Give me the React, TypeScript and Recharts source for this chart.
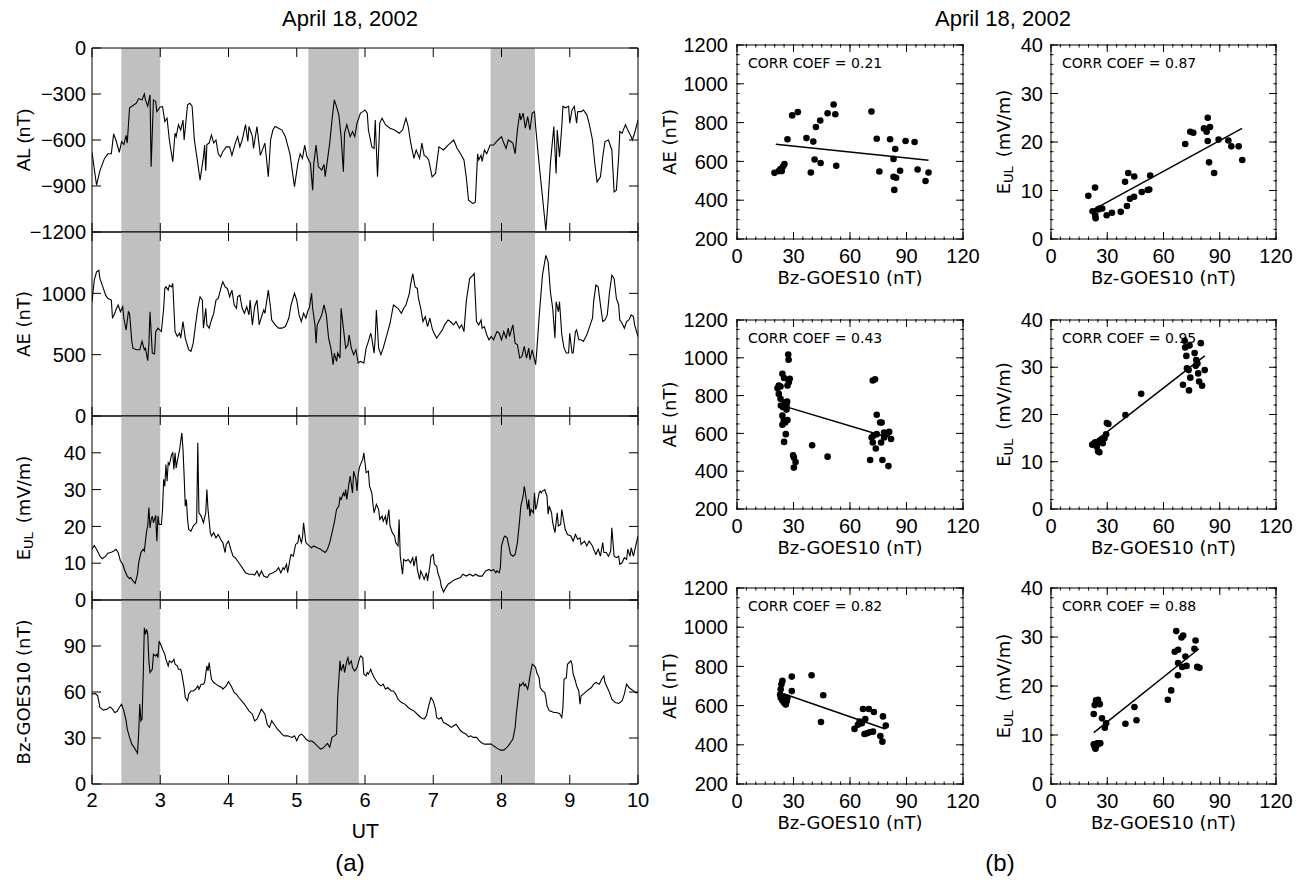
import React from "react";
import {
  LineChart,
  Line,
  XAxis,
  YAxis,
  ReferenceArea,
  ScatterChart,
  Scatter,
  ReferenceLine,
} from "recharts";

// ---------------- data: time series (panel a) ----------------
// each trace: [minutes after 02:00 UT, value]
const HOURS = [2, 3, 4, 5, 6, 7, 8, 9, 10];
const SHADED_INTERVALS: [number, number][] = [
  [2.43, 3.0],
  [5.17, 5.91],
  [7.84, 8.49],
];

const alTrace: [number, number][] = [
  [0,-680],[4,-895],[7,-800],[11,-720],[14,-690],[17,-690],[19,-560],[21,-600],[24,-680],[26,-610],[28,-630],[30,-570],[31,-620],[33,-390],[36,-375],[39,-360],[41,-330],[44,-338],[46,-300],[47,-340],[49,-380],[51,-305],[52,-775],[54,-338],[56,-350],[57,-415],[60,-385],[62,-382],[64,-480],[66,-458],[68,-600],[71,-742],[73,-556],[74,-578],[76,-500],[78,-535],[80,-470],[81,-600],[84,-370],[86,-360],[88,-380],[90,-600],[93,-752],[95,-862],[98,-710],[99,-633],[100,-800],[101,-630],[103,-620],[105,-567],[107,-620],[109,-600],[111,-690],[113,-710],[115,-676],[118,-645],[121,-645],[123,-700],[126,-620],[128,-578],[130,-645],[132,-600],[135,-500],[137,-610],[138,-512],[141,-578],[142,-655],[145,-512],[148,-700],[152,-620],[155,-840],[157,-600],[159,-535],[161,-512],[164,-523],[167,-535],[170,-578],[174,-690],[178,-905],[181,-752],[183,-690],[185,-720],[187,-633],[189,-710],[192,-752],[194,-927],[195,-752],[197,-633],[199,-775],[202,-796],[204,-760],[205,-840],[207,-730],[209,-620],[211,-470],[213,-338],[215,-382],[217,-436],[219,-578],[221,-807],[222,-556],[224,-500],[227,-578],[229,-545],[231,-578],[233,-490],[236,-425],[238,-415],[240,-404],[242,-425],[243,-535],[246,-645],[248,-655],[249,-470],[251,-840],[253,-490],[255,-458],[258,-500],[262,-523],[266,-535],[270,-556],[273,-535],[276,-458],[278,-512],[280,-610],[283,-720],[285,-665],[288,-720],[290,-620],[292,-700],[294,-710],[296,-730],[299,-840],[302,-818],[305,-645],[309,-665],[313,-633],[315,-620],[318,-600],[321,-655],[324,-690],[327,-730],[329,-840],[331,-993],[335,-1015],[337,-1004],[339,-690],[340,-730],[342,-700],[343,-740],[345,-665],[347,-690],[350,-633],[353,-633],[357,-600],[360,-578],[362,-620],[364,-655],[366,-600],[368,-610],[370,-620],[372,-690],[374,-535],[376,-425],[377,-470],[379,-425],[381,-523],[383,-447],[385,-535],[387,-425],[389,-415],[390,-512],[393,-752],[396,-970],[399,-1190],[401,-993],[403,-752],[406,-512],[408,-818],[409,-535],[411,-710],[413,-512],[414,-380],[416,-390],[419,-380],[420,-490],[422,-404],[424,-380],[426,-490],[427,-415],[430,-415],[432,-404],[435,-436],[437,-490],[440,-600],[442,-752],[444,-873],[447,-840],[449,-710],[451,-610],[454,-600],[457,-665],[459,-938],[461,-927],[463,-710],[464,-545],[466,-556],[469,-500],[471,-535],[474,-578],[475,-600],[477,-556],[480,-470],
];

const aeTrace: [number, number][] = [
  [0,930],[2,1107],[4,1175],[6,1188],[7,1120],[10,1040],[12,985],[14,958],[17,945],[18,797],[20,837],[21,864],[23,905],[25,850],[27,891],[28,797],[30,702],[32,850],[33,837],[35,608],[36,553],[39,540],[42,540],[44,608],[46,540],[47,553],[49,451],[50,581],[51,850],[53,513],[55,505],[56,688],[58,716],[61,688],[63,878],[64,1040],[65,1053],[67,1026],[68,1067],[70,1053],[71,1080],[73,688],[75,648],[77,675],[78,635],[80,770],[82,635],[85,540],[87,527],[89,594],[91,743],[93,878],[95,972],[97,945],[98,716],[100,878],[101,743],[103,716],[105,783],[107,837],[109,945],[111,958],[114,1067],[115,1094],[117,1053],[119,1040],[121,972],[123,1026],[125,905],[127,878],[128,972],[130,985],[132,878],[134,837],[136,891],[138,824],[139,945],[141,743],[143,891],[145,945],[147,743],[149,810],[151,864],[152,837],[155,1026],[157,878],[158,783],[161,743],[164,716],[167,716],[170,729],[173,797],[175,905],[178,1000],[180,945],[182,824],[184,770],[186,837],[188,797],[190,864],[191,878],[193,1000],[194,878],[196,743],[197,594],[198,743],[200,783],[202,824],[204,905],[206,824],[208,635],[210,553],[212,418],[213,513],[215,445],[216,513],[218,472],[219,878],[221,716],[223,553],[225,581],[226,662],[228,553],[230,500],[232,540],[234,432],[236,445],[239,432],[241,553],[243,608],[245,675],[246,635],[248,513],[249,635],[250,864],[252,553],[254,500],[256,553],[258,621],[260,688],[262,756],[265,905],[267,891],[269,878],[272,837],[274,878],[276,905],[279,1000],[280,1067],[282,1161],[284,1053],[286,1040],[287,958],[289,878],[291,770],[293,810],[295,729],[297,797],[299,716],[300,688],[303,635],[305,662],[308,702],[310,743],[313,783],[315,770],[318,743],[320,770],[323,716],[325,743],[327,688],[329,932],[332,1121],[335,1148],[336,1161],[338,770],[340,743],[342,783],[343,716],[345,729],[347,662],[349,621],[351,648],[353,621],[356,688],[358,675],[360,621],[362,688],[364,635],[366,716],[367,648],[370,743],[372,594],[374,581],[376,472],[378,486],[380,567],[382,472],[384,553],[385,459],[387,540],[390,418],[391,527],[393,797],[396,1148],[399,1310],[401,1256],[403,1013],[405,878],[407,635],[408,932],[410,850],[411,932],[413,662],[415,553],[417,513],[419,513],[420,675],[422,513],[423,513],[425,688],[426,702],[428,621],[430,621],[432,608],[435,662],[437,716],[440,797],[441,932],[443,1067],[445,1053],[447,905],[449,770],[451,783],[453,824],[455,1013],[457,1148],[459,1121],[461,958],[463,905],[464,783],[466,756],[468,716],[470,770],[472,783],[474,824],[476,810],[477,743],[480,648],
];

const eulTrace: [number, number][] = [
  [0,13.8],[2,14.8],[4,13.8],[7,11.9],[9,11.2],[12,11.9],[14,12.7],[17,13.0],[19,13.3],[21,13.8],[23,12.9],[25,10.6],[27,9.7],[29,7.9],[31,6.5],[33,5.8],[34,6.1],[36,5.2],[38,4.5],[40,7.0],[41,10.1],[43,12.9],[45,13.8],[46,13.3],[47,16.0],[48,18.7],[49,20.1],[50,25.1],[51,19.6],[52,21.9],[53,22.8],[54,21.0],[56,23.0],[57,16.0],[58,22.8],[59,20.5],[61,20.5],[62,24.6],[63,32.8],[64,30.9],[65,36.8],[66,32.3],[67,37.3],[68,36.8],[70,39.5],[71,40.0],[72,35.5],[73,40.0],[74,35.9],[75,37.7],[77,40.9],[78,43.2],[79,45.4],[80,40.9],[81,33.7],[82,25.5],[83,27.3],[84,21.9],[85,19.2],[87,18.7],[89,20.1],[90,20.5],[92,21.0],[93,42.7],[94,23.7],[96,22.8],[98,21.0],[100,23.7],[101,30.0],[102,24.6],[104,18.3],[105,17.4],[107,18.3],[109,16.9],[111,17.8],[113,16.5],[115,15.6],[117,12.9],[118,15.1],[120,16.0],[122,13.8],[124,11.9],[126,11.5],[128,10.6],[130,9.7],[132,8.8],[135,7.4],[138,7.0],[141,7.0],[143,6.8],[145,7.9],[147,6.5],[149,7.9],[151,6.5],[154,6.1],[156,7.0],[159,7.4],[162,7.9],[164,8.8],[166,7.4],[168,8.8],[169,8.3],[171,9.7],[172,7.4],[174,11.0],[175,12.4],[177,11.9],[179,15.1],[181,15.6],[182,17.8],[184,15.6],[185,16.9],[186,21.0],[188,15.6],[191,14.7],[193,14.2],[195,14.7],[198,14.2],[201,13.8],[203,13.3],[205,12.9],[207,13.8],[209,15.6],[211,18.3],[213,21.0],[215,24.6],[217,25.5],[218,27.8],[219,27.3],[221,29.1],[222,28.2],[223,30.0],[224,27.3],[226,31.9],[227,33.7],[229,29.1],[230,35.0],[232,32.8],[233,29.6],[234,34.1],[235,35.9],[236,36.8],[238,38.2],[239,40.0],[240,37.3],[241,34.6],[243,35.0],[244,30.9],[246,29.1],[247,26.0],[248,23.7],[250,26.0],[252,24.6],[253,21.9],[255,22.8],[256,21.4],[258,22.8],[259,20.5],[261,24.6],[262,20.1],[264,18.3],[266,17.4],[267,15.6],[269,14.7],[270,21.9],[271,11.9],[273,7.0],[274,11.0],[276,10.6],[278,11.0],[280,10.1],[282,11.5],[283,9.2],[285,11.9],[286,8.3],[288,5.6],[289,7.9],[291,6.5],[292,5.6],[294,7.4],[295,5.2],[297,9.2],[298,11.9],[300,12.4],[301,9.7],[303,9.2],[304,7.4],[306,5.6],[307,3.8],[309,2.2],[311,3.3],[313,4.3],[315,4.7],[318,5.4],[321,5.8],[324,6.1],[326,7.0],[329,6.5],[332,7.0],[335,6.5],[337,7.0],[340,6.5],[343,6.5],[346,7.9],[349,8.3],[351,7.9],[353,8.3],[355,7.4],[356,7.9],[358,7.4],[359,8.8],[360,14.7],[362,16.9],[363,17.4],[365,16.9],[367,13.8],[368,12.4],[370,11.9],[372,12.4],[374,15.6],[376,21.9],[377,25.5],[379,28.2],[380,30.9],[381,29.1],[383,24.6],[384,27.3],[385,22.8],[386,24.6],[388,23.7],[389,29.1],[390,24.6],[391,25.5],[393,29.1],[394,29.6],[395,29.1],[396,29.6],[398,30.0],[400,28.2],[401,23.3],[402,25.5],[404,23.7],[405,21.0],[407,18.3],[409,23.7],[410,20.1],[412,20.5],[413,24.6],[415,21.0],[416,19.2],[418,17.8],[421,17.4],[423,16.0],[425,17.8],[427,16.5],[429,16.9],[430,15.1],[433,16.0],[435,14.7],[437,16.0],[440,14.7],[441,13.8],[443,12.4],[445,13.8],[447,11.9],[449,15.6],[450,12.9],[452,12.9],[454,11.9],[456,13.3],[457,19.6],[459,11.9],[461,11.5],[463,11.9],[464,9.7],[466,10.1],[468,11.5],[470,11.0],[471,13.8],[473,11.9],[474,14.2],[476,11.9],[478,14.7],[480,17.4],
];

const bzTrace: [number, number][] = [
  [0,58.6],[3,59.0],[5,57.5],[7,49.9],[10,48.2],[13,48.8],[16,50.3],[18,48.8],[20,46.6],[22,47.3],[24,49.9],[26,52.1],[28,47.7],[30,41.2],[31,35.8],[33,30.4],[35,26.0],[37,23.9],[39,21.3],[40,20.0],[41,32.5],[42,52.1],[43,41.2],[44,42.3],[45,69.4],[46,101.9],[47,97.6],[48,100.8],[49,98.0],[50,80.3],[51,72.7],[53,74.8],[54,84.6],[56,83.5],[57,84.6],[58,82.4],[59,93.3],[61,90.0],[62,87.8],[64,84.6],[65,81.3],[67,77.0],[68,80.3],[70,79.2],[72,81.3],[73,78.1],[75,77.0],[76,74.8],[78,74.8],[79,71.6],[81,62.9],[82,56.4],[84,54.2],[85,58.6],[87,60.7],[89,60.7],[91,61.8],[93,64.0],[94,61.8],[96,65.1],[98,65.1],[99,66.2],[101,77.0],[102,73.7],[103,79.2],[104,73.7],[105,68.3],[107,66.2],[109,65.1],[111,64.0],[114,62.9],[115,61.8],[118,64.0],[120,66.8],[121,65.5],[123,62.9],[125,59.6],[127,58.6],[129,56.4],[131,54.7],[134,52.1],[136,49.9],[138,47.7],[141,45.5],[143,41.2],[145,42.3],[147,45.5],[149,48.8],[152,45.5],[154,39.0],[156,36.9],[158,41.2],[161,38.0],[163,35.8],[165,34.3],[167,32.5],[169,31.4],[172,31.4],[174,30.8],[176,30.4],[178,31.4],[180,28.2],[182,31.4],[184,32.5],[186,31.4],[188,29.3],[191,27.8],[193,28.2],[195,27.1],[198,24.9],[201,22.8],[203,23.4],[205,24.9],[207,26.5],[209,23.9],[211,30.4],[213,31.4],[215,32.5],[216,56.4],[218,80.3],[219,73.7],[221,78.1],[222,72.7],[224,80.3],[225,82.4],[226,78.1],[228,80.3],[229,75.9],[231,73.7],[233,75.9],[235,81.3],[236,83.5],[238,82.4],[239,71.6],[241,70.5],[242,72.7],[243,71.6],[245,74.8],[246,72.7],[248,69.4],[250,67.2],[252,65.1],[254,64.0],[256,65.1],[258,61.8],[260,62.9],[263,60.7],[265,60.7],[267,58.6],[269,55.3],[272,53.1],[275,52.1],[278,49.9],[280,48.8],[283,47.7],[286,45.5],[289,43.4],[292,42.3],[294,44.5],[296,51.0],[298,56.4],[300,54.2],[302,48.8],[303,43.4],[305,42.3],[307,43.4],[309,40.1],[312,39.0],[314,38.0],[316,36.9],[318,38.0],[320,39.0],[322,36.9],[324,34.7],[326,33.6],[329,32.5],[331,30.8],[333,31.4],[335,30.4],[338,30.4],[340,28.6],[342,27.1],[345,26.0],[348,26.0],[351,26.0],[353,24.9],[356,23.4],[359,22.1],[362,22.1],[364,23.4],[366,24.9],[368,27.1],[370,29.3],[372,36.9],[373,45.5],[375,58.6],[376,65.1],[377,64.0],[379,66.2],[380,64.0],[381,65.1],[383,61.8],[384,65.5],[385,70.5],[387,78.1],[389,77.0],[390,75.9],[391,72.7],[393,69.4],[394,62.9],[396,60.7],[398,59.6],[399,56.4],[400,51.0],[402,47.7],[404,47.3],[406,46.6],[408,46.6],[411,46.0],[413,43.4],[414,49.9],[415,68.3],[417,69.4],[418,78.1],[421,80.3],[422,78.1],[423,71.6],[425,67.2],[426,64.0],[428,60.7],[429,52.1],[430,57.5],[432,58.6],[435,60.7],[437,61.8],[439,62.9],[441,65.1],[443,66.2],[446,65.1],[448,68.3],[450,70.5],[451,66.2],[453,62.9],[455,59.6],[457,55.3],[460,53.1],[463,52.5],[466,54.2],[468,58.6],[470,65.1],[472,62.9],[474,61.8],[476,60.7],[478,59.6],[480,59.6],
];

const AL_TICKS = [-1200, -900, -600, -300, 0];
const AE_TICKS = [0, 500, 1000];
const EUL_TICKS = [0, 10, 20, 30, 40];
const BZ_TICKS = [0, 30, 60, 90];

// ---------------- data: scatter panels (b) ----------------
const BZ_SC_TICKS = [0, 30, 60, 90, 120];
const AE_SC_TICKS = [200, 400, 600, 800, 1000, 1200];
const EUL_SC_TICKS = [0, 10, 20, 30, 40];

// interval 1 (2.43-3.0 UT)  [Bz, value]
const scAE1: [number, number][] = [
  [19.9,541],[22.2,550],[23.1,560],[23.8,550],[24.5,575],[25.2,586],[26.8,714],[29.3,837],[32.3,854],[36.9,720],[39.2,543],[40.5,702],[41.2,610],[41.9,777],[44.2,811],[44.4,592],[48.1,848],[51.3,893],[52.2,843],[52.7,577],[71.4,857],[74.2,717],[75.6,548],[81.3,714],[83.1,613],[83.1,521],[84.0,664],[84.5,516],[83.5,453],[86.6,552],[89.5,705],[94.3,700],[95.9,558],[100.1,499],[101.7,543],
];
const scEUL1: [number, number][] = [
  [19.9,8.9],[23.5,10.6],[22.2,5.7],[23.6,4.9],[23.8,4.3],[25.2,6.1],[26.0,6.3],[27.3,6.3],[29.7,4.9],[32.5,5.4],[37.2,5.6],[39.5,11.8],[40.5,6.8],[41.2,13.6],[42.1,8.3],[44.3,8.7],[44.4,12.9],[48.4,9.7],[51.6,10.1],[52.4,10.2],[52.9,13.1],[71.6,19.6],[74.3,22.1],[75.9,21.9],[81.6,22.8],[83.0,22.1],[83.6,25.0],[83.6,20.2],[84.8,23.1],[84.3,15.8],[87.0,13.6],[89.4,20.5],[94.6,20.3],[96.2,19.1],[100.1,19.1],[102.0,16.3],
];
// interval 2 (5.17-5.91 UT)
const scAE2: [number, number][] = [
  [27.2,1017],[27.4,990],[24.1,916],[25.0,893],[22.2,853],[23.1,848],[21.5,839],[22.2,809],[28.0,889],[27.5,871],[26.8,853],[23.1,783],[25.4,765],[26.6,768],[26.3,747],[23.3,747],[24.5,738],[26.3,726],[24.1,694],[24.8,667],[25.6,658],[26.8,671],[24.1,646],[25.9,596],[25.0,555],[29.8,484],[30.2,472],[31.1,449],[30.2,419],[39.9,537],[48.1,477],[72.1,880],[73.3,886],[74.2,699],[76.0,658],[76.8,658],[71.5,578],[72.4,587],[72.1,552],[73.7,520],[74.2,596],[76.5,552],[78.1,605],[79.5,596],[80.8,608],[78.1,578],[81.8,570],[70.7,459],[77.2,459],[80.4,427],
];
const scEUL2: [number, number][] = [
  [22.0,13.6],[22.6,13.8],[23.6,14.1],[24.4,13.2],[25.1,12.2],[25.8,12.0],[25.5,14.3],[26.4,14.6],[27.3,14.8],[27.6,13.9],[28.5,15.0],[29.4,15.8],[29.8,18.2],[30.6,18.0],[39.7,19.9],[48.1,24.4],[70.4,26.3],[71.6,34.2],[71.3,35.6],[73.9,34.6],[72.2,32.4],[72.5,29.8],[73.4,29.4],[73.6,25.1],[74.3,27.8],[76.6,33.0],[77.5,31.5],[77.2,30.3],[78.1,30.8],[78.5,28.7],[79.0,27.0],[79.9,35.1],[80.6,26.1],[82.0,29.4],
];
// interval 3 (7.84-8.49 UT)
const scAE3: [number, number][] = [
  [24.1,726],[23.6,709],[23.2,683],[22.9,657],[23.2,640],[24.1,626],[25.0,614],[25.9,605],[24.7,648],[25.4,631],[26.4,622],[26.8,640],[29.1,748],[29.1,674],[39.6,755],[45.8,653],[44.6,516],[62.4,481],[64.2,502],[65.1,519],[66.3,510],[66.9,583],[68.1,531],[70.0,583],[72.7,567],[67.7,455],[69.0,459],[70.4,464],[72.2,467],[77.5,545],[76.1,445],[77.2,416],[79.0,498],
];
const scEUL3: [number, number][] = [
  [22.8,8.1],[23.7,7.2],[24.6,8.3],[25.5,8.3],[26.3,8.3],[23.3,7.6],[24.2,7.8],[22.8,14.3],[23.3,16.1],[24.0,17.1],[25.1,17.2],[26.0,16.3],[27.2,13.4],[28.7,11.5],[29.4,12.4],[39.7,12.3],[44.5,15.7],[45.6,13.0],[62.3,17.2],[64.1,19.1],[66.8,31.2],[66.0,27.0],[67.8,27.4],[67.7,22.2],[67.8,24.7],[69.6,29.9],[70.5,30.3],[70.0,23.9],[71.7,26.0],[72.3,24.1],[76.5,27.6],[77.1,29.3],[78.0,23.9],[79.2,23.7],
];

// regression line end points [Bz, value]
const fitAE1: [number, number][] = [[20.6, 688], [101.7, 606]];
const fitEUL1: [number, number][] = [[20.4, 5.6], [101.9, 22.8]];
const fitAE2: [number, number][] = [[22.7, 751], [79.2, 582]];
const fitEUL2: [number, number][] = [[22.0, 13.9], [82.0, 32.4]];
const fitAE3: [number, number][] = [[25.9, 657], [78.8, 481]];
const fitEUL3: [number, number][] = [[22.8, 10.5], [78.9, 27.6]];

const CORR_COEFS = ["0.21", "0.87", "0.43", "0.95", "0.82", "0.88"];

// ---------------- styling ----------------
const HELV = "'Liberation Sans', Arial, Helvetica, sans-serif";
const THIN = "'DejaVu Sans', 'Liberation Sans', sans-serif";
const TICK_FONT = 20;
const fmtMinus = (v: number) => (v < 0 ? "\u2212" + Math.abs(v) : String(v));

const range = (a: number, b: number, s: number) => {
  const r: number[] = [];
  for (let v = a; v <= b + 1e-9; v += s) r.push(Math.round(v * 1000) / 1000);
  return r;
};

// Inward-pointing IDL-style tick (line + optional label), drawn at the
// position Recharts hands to the tick renderer (tickSize = tickMargin = 0).
type Side = "b" | "t" | "l" | "r";
const inwardTick = (side: Side, len: number, label: boolean, gap = 8, fmt: (v: number) => string = String) =>
  (p: any) => {
    const x = p.x as number;
    const y = p.y as number;
    const v = p.payload ? p.payload.value : 0;
    let line: React.ReactNode = null;
    let text: React.ReactNode = null;
    if (side === "b") {
      line = <line x1={x} x2={x} y1={y} y2={y - len} stroke="#000" strokeWidth={1} />;
      if (label)
        text = (
          <text x={x} y={y + gap} dy="0.75em" textAnchor="middle" fontFamily={HELV} fontSize={TICK_FONT} fill="#000">
            {fmt(v)}
          </text>
        );
    } else if (side === "t") {
      line = <line x1={x} x2={x} y1={y} y2={y + len} stroke="#000" strokeWidth={1} />;
    } else if (side === "l") {
      line = <line x1={x} x2={x + len} y1={y} y2={y} stroke="#000" strokeWidth={1} />;
      if (label)
        text = (
          <text x={x - gap} y={y} dy="0.36em" textAnchor="end" fontFamily={HELV} fontSize={TICK_FONT} fill="#000">
            {fmt(v)}
          </text>
        );
    } else {
      line = <line x1={x} x2={x - len} y1={y} y2={y} stroke="#000" strokeWidth={1} />;
    }
    return (
      <g>
        {line}
        {text}
      </g>
    );
  };

// ---------------- panel (a) ----------------
const A_LEFT = 92;
const A_RIGHT = 638;
const A_SVG_W = 660;
const AX = 1; // thickness reserved by each axis (must be > 0 for Recharts to draw it)

const TICK_A_B_LABEL = inwardTick("b", 9, true, 8);
const TICK_A_B = inwardTick("b", 9, false);
const TICK_A_T = inwardTick("t", 9, false);
const TICK_A_L = inwardTick("l", 9, true, 6, fmtMinus);
const TICK_A_R = inwardTick("r", 9, false);

function TimePanel(props: {
  trace: [number, number][];
  domain: [number, number];
  ticks: number[];
  top: number;
  height: number;
  showX: boolean;
}) {
  const padT = 14;
  const padB = props.showX ? 44 : 14;
  const data = props.trace.map(([m, v]) => ({ t: 2 + m / 60, v }));
  const h = props.height + padT + padB;
  const common = { tickSize: 0, tickMargin: 0, tickLine: false, interval: 0 as const, allowDataOverflow: true, stroke: "#000" };
  return (
    <div style={{ position: "absolute", left: 0, top: props.top - padT, width: A_SVG_W, height: h }}>
      <LineChart
        width={A_SVG_W}
        height={h}
        data={data}
        margin={{ top: padT - AX, bottom: padB - AX, left: A_LEFT - AX, right: A_SVG_W - A_RIGHT - AX }}
      >
        <XAxis xAxisId="b" dataKey="t" type="number" domain={[2, 10]} ticks={HOURS} height={AX}
          tick={props.showX ? TICK_A_B_LABEL : TICK_A_B} {...common} />
        <XAxis xAxisId="t" dataKey="t" orientation="top" type="number" domain={[2, 10]} ticks={HOURS} height={AX}
          tick={TICK_A_T} {...common} />
        <YAxis yAxisId="l" dataKey="v" type="number" domain={props.domain} ticks={props.ticks} width={AX}
          tick={TICK_A_L} {...common} />
        <YAxis yAxisId="r" dataKey="v" orientation="right" type="number" domain={props.domain} ticks={props.ticks}
          width={AX} tick={TICK_A_R} {...common} />
        {SHADED_INTERVALS.map(([a, b], i) => (
          <ReferenceArea
            key={i}
            xAxisId="b"
            yAxisId="l"
            x1={a}
            x2={b}
            fill="#c0c0c0"
            fillOpacity={1}
            stroke="none"
          />
        ))}
        <Line
          xAxisId="b"
          yAxisId="l"
          type="linear"
          dataKey="v"
          stroke="#000"
          strokeWidth={1.1}
          dot={false}
          isAnimationActive={false}
        />
      </LineChart>
    </div>
  );
}

// ---------------- panel (b) ----------------
const X_MINOR = range(0, 120, 5);
const AE_MINOR = range(200, 1200, 50);
const EUL_MINOR = range(0, 40, 2);

const TICK_B_B = inwardTick("b", 7, true, 9);
const TICK_B_BM = inwardTick("b", 3.5, false);
const TICK_B_T = inwardTick("t", 7, false);
const TICK_B_TM = inwardTick("t", 3.5, false);
const TICK_B_L1 = inwardTick("l", 7, true, 9);
const TICK_B_L2 = inwardTick("l", 7, true, 8);
const TICK_B_LM = inwardTick("l", 3.5, false);
const TICK_B_R = inwardTick("r", 7, false);
const TICK_B_RM = inwardTick("r", 3.5, false);

const dotShape = (p: any) => <circle cx={p.cx} cy={p.cy} r={3.3} fill="#000" />;

function ScatterPanel(props: {
  pts: [number, number][];
  fit: [number, number][];
  left: number;
  top: number;
  width: number;
  height: number;
  yDomain: [number, number];
  yTicks: number[];
  yMinor: number[];
  col: number;
}) {
  const padL = 70;
  const padR = 20;
  const padT = 15;
  const padB = 40;
  const W = props.width + padL + padR;
  const H = props.height + padT + padB;
  const data = props.pts.map(([x, y]) => ({ x, y }));
  const common = { tickSize: 0, tickMargin: 0, tickLine: false, interval: 0 as const, allowDataOverflow: true, stroke: "#000" };
  return (
    <div style={{ position: "absolute", left: props.left - padL, top: props.top - padT, width: W, height: H }}>
      <ScatterChart
        width={W}
        height={H}
        margin={{ top: padT - 2 * AX, right: padR - 2 * AX, bottom: padB - 2 * AX, left: padL - 2 * AX }}
      >
        <XAxis xAxisId="b" dataKey="x" type="number" domain={[0, 120]} ticks={BZ_SC_TICKS} height={AX}
          tick={TICK_B_B} {...common} />
        <XAxis xAxisId="bm" dataKey="x" type="number" domain={[0, 120]} ticks={X_MINOR} height={AX}
          axisLine={false} tick={TICK_B_BM} {...common} />
        <XAxis xAxisId="t" dataKey="x" orientation="top" type="number" domain={[0, 120]} ticks={BZ_SC_TICKS}
          height={AX} tick={TICK_B_T} {...common} />
        <XAxis xAxisId="tm" dataKey="x" orientation="top" type="number" domain={[0, 120]} ticks={X_MINOR}
          height={AX} axisLine={false} tick={TICK_B_TM} {...common} />
        <YAxis yAxisId="l" dataKey="y" type="number" domain={props.yDomain} ticks={props.yTicks} width={AX}
          tick={props.col === 0 ? TICK_B_L1 : TICK_B_L2} {...common} />
        <YAxis yAxisId="lm" dataKey="y" type="number" domain={props.yDomain} ticks={props.yMinor} width={AX}
          axisLine={false} tick={TICK_B_LM} {...common} />
        <YAxis yAxisId="r" dataKey="y" orientation="right" type="number" domain={props.yDomain} ticks={props.yTicks}
          width={AX} tick={TICK_B_R} {...common} />
        <YAxis yAxisId="rm" dataKey="y" orientation="right" type="number" domain={props.yDomain} ticks={props.yMinor}
          width={AX} axisLine={false} tick={TICK_B_RM} {...common} />
        <Scatter xAxisId="b" yAxisId="l" data={data} shape={dotShape} isAnimationActive={false} />
        <ReferenceLine
          xAxisId="b"
          yAxisId="l"
          segment={[
            { x: props.fit[0][0], y: props.fit[0][1] },
            { x: props.fit[1][0], y: props.fit[1][1] },
          ]}
          stroke="#000"
          strokeWidth={1.5}
        />
      </ScatterChart>
    </div>
  );
}

// ---------------- layout ----------------
const A_PANELS = [
  { trace: alTrace, domain: [-1200, 0] as [number, number], ticks: AL_TICKS, top: 48 },
  { trace: aeTrace, domain: [0, 1500] as [number, number], ticks: AE_TICKS, top: 232 },
  { trace: eulTrace, domain: [0, 50] as [number, number], ticks: EUL_TICKS, top: 416 },
  { trace: bzTrace, domain: [0, 120] as [number, number], ticks: BZ_TICKS, top: 600 },
];
const A_PANEL_H = 184;

const B_COLS = [737, 1051];
const B_COL_W = [226, 225];
const B_ROWS = [
  { top: 45, h: 194 },
  { top: 320, h: 189 },
  { top: 588, h: 196 },
];
const B_PANELS = [
  { pts: scAE1, fit: fitAE1, row: 0, col: 0 },
  { pts: scEUL1, fit: fitEUL1, row: 0, col: 1 },
  { pts: scAE2, fit: fitAE2, row: 1, col: 0 },
  { pts: scEUL2, fit: fitEUL2, row: 1, col: 1 },
  { pts: scAE3, fit: fitAE3, row: 2, col: 0 },
  { pts: scEUL3, fit: fitEUL3, row: 2, col: 1 },
];

function EulTitle({ x, y }: { x: number; y: number }) {
  return (
    <text
      transform={`translate(${x},${y}) rotate(-90)`}
      textAnchor="middle"
      dominantBaseline="central"
      fontFamily={THIN}
      fontSize={18}
      fill="#000"
    >
      E
      <tspan fontSize={13} dy={5}>
        UL
      </tspan>
      <tspan dy={-5} dx={9}>
        (mV/m)
      </tspan>
    </text>
  );
}

function RotTitle({ x, y, text, family, size }: { x: number; y: number; text: string; family: string; size: number }) {
  return (
    <text
      transform={`translate(${x},${y}) rotate(-90)`}
      textAnchor="middle"
      dominantBaseline="central"
      fontFamily={family}
      fontSize={size}
      fill="#000"
    >
      {text}
    </text>
  );
}

export default function App() {
  return (
    <div style={{ position: "absolute", left: 0, top: 0, width: 1302, height: 888, background: "#fff", overflow: "hidden" }}>
      {A_PANELS.map((p, i) => (
        <TimePanel
          key={i}
          trace={p.trace}
          domain={p.domain}
          ticks={p.ticks}
          top={p.top}
          height={A_PANEL_H}
          showX={i === 3}
        />
      ))}
      {B_PANELS.map((p, i) => {
        const row = B_ROWS[p.row];
        const isAE = p.col === 0;
        return (
          <ScatterPanel
            key={i}
            pts={p.pts}
            fit={p.fit}
            left={B_COLS[p.col]}
            top={row.top}
            width={B_COL_W[p.col]}
            height={row.h}
            yDomain={isAE ? [200, 1200] : [0, 40]}
            yTicks={isAE ? AE_SC_TICKS : EUL_SC_TICKS}
            yMinor={isAE ? AE_MINOR : EUL_MINOR}
            col={p.col}
          />
        );
      })}
      <svg
        width={1302}
        height={888}
        style={{ position: "absolute", left: 0, top: 0, pointerEvents: "none" }}
      >
        <text x={350} y={18} textAnchor="middle" dominantBaseline="central" fontFamily={HELV} fontSize={22} fill="#000">
          April 18, 2002
        </text>
        <text x={1003} y={18} textAnchor="middle" dominantBaseline="central" fontFamily={HELV} fontSize={22} fill="#000">
          April 18, 2002
        </text>
        <text x={365} y={831} textAnchor="middle" dominantBaseline="central" fontFamily={THIN} fontSize={20} fill="#000">
          UT
        </text>
        <text x={350} y={862} textAnchor="middle" dominantBaseline="central" fontFamily={HELV} fontSize={24} fill="#000">
          (a)
        </text>
        <text x={1000} y={862} textAnchor="middle" dominantBaseline="central" fontFamily={HELV} fontSize={24} fill="#000">
          (b)
        </text>
        <RotTitle x={23} y={48 + A_PANEL_H / 2} text="AL (nT)" family={HELV} size={19} />
        <RotTitle x={23} y={232 + A_PANEL_H / 2} text="AE (nT)" family={THIN} size={18} />
        <EulTitle x={23} y={416 + A_PANEL_H / 2} />
        <RotTitle x={23} y={600 + A_PANEL_H / 2} text="Bz-GOES10 (nT)" family={THIN} size={18} />
        {B_ROWS.map((r, i) => (
          <g key={i}>
            <RotTitle x={669} y={r.top + r.h / 2} text="AE (nT)" family={THIN} size={18} />
            <EulTitle x={1003} y={r.top + r.h / 2} />
            <text x={B_COLS[0] + B_COL_W[0] / 2} y={r.top + r.h + 38} textAnchor="middle" dominantBaseline="central"
              fontFamily={THIN} fontSize={18} fill="#000">
              Bz-GOES10 (nT)
            </text>
            <text x={B_COLS[1] + B_COL_W[1] / 2} y={r.top + r.h + 38} textAnchor="middle" dominantBaseline="central"
              fontFamily={THIN} fontSize={18} fill="#000">
              Bz-GOES10 (nT)
            </text>
          </g>
        ))}
        {B_PANELS.map((p, i) => (
          <text key={i} x={B_COLS[p.col] + 11} y={B_ROWS[p.row].top + 18} dominantBaseline="central"
            fontFamily={THIN} fontSize={14} fill="#000">
            {"CORR COEF = " + CORR_COEFS[i]}
          </text>
        ))}
      </svg>
    </div>
  );
}
